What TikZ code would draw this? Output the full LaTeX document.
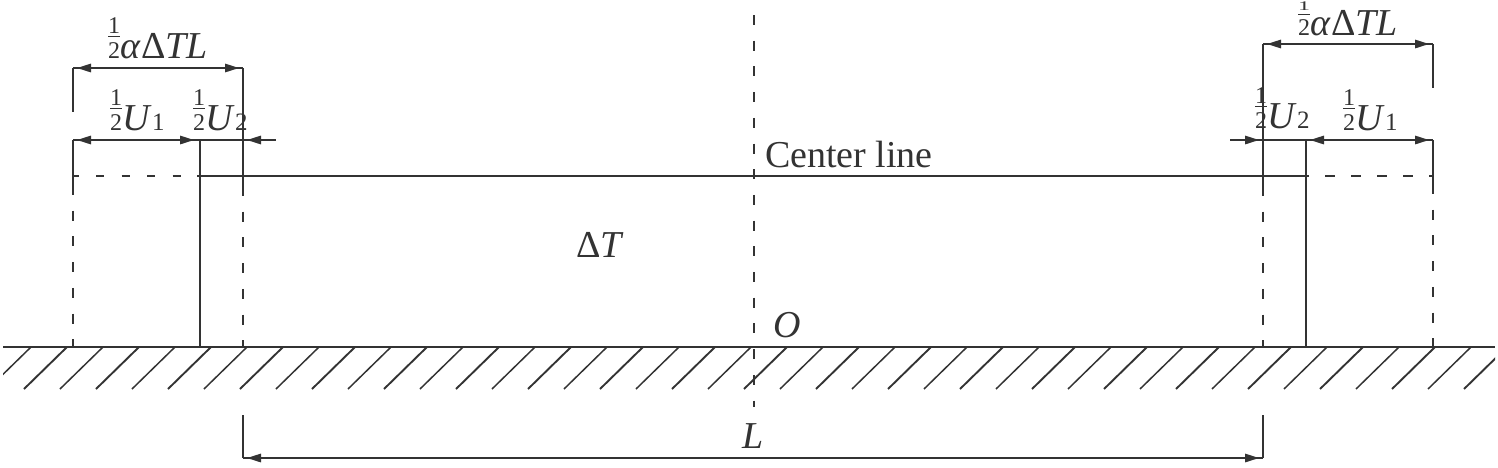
\documentclass[tikz,border=0pt]{standalone}
\usepackage{fontspec}
\setmainfont{Liberation Serif}
\usetikzlibrary{arrows.meta}
\definecolor{ink}{HTML}{333333}
\newcommand{\bigf}{\fontsize{38}{40}\selectfont}
\newcommand{\midf}{\fontsize{25}{27}\selectfont}
\newcommand{\smlf}{\fontsize{24}{26}\selectfont}
\newcommand{\hf}{\makebox[12.5pt][l]{\smlf\rlap{\raisebox{25pt}{1}}\rlap{\rule[21pt]{12pt}{1.3pt}}2}}
\newcommand{\hfs}{\makebox[12.5pt][l]{\smlf\rlap{\raisebox{25pt}{\scalebox{1}[0.55]{1}}}\rlap{\rule[20pt]{12pt}{1.3pt}}2}}
\newcommand{\aDTL}{\textit{α}Δ\textit{TL}}
\tikzset{
  x=1pt,y=-1pt,
  lab/.style={anchor=base west,inner sep=0pt,outer sep=0pt,text=ink,font=\bigf},
  ln/.style={draw=ink,line width=1.5pt},
  dsh/.style={ln,dash pattern=on 10pt off 15.7pt},
  tipshape/.tip={Triangle[length=14pt,width=8.5pt]},
  tipped/.style={ln,{tipshape}-{tipshape},shorten <=4pt,shorten >=4pt},
  tipend/.style={ln,-{tipshape},shorten >=4pt},
  tipstart/.style={ln,{tipshape}-,shorten <=4pt},
  heavy/.style={draw=ink,line width=2.6pt},
  hatchthin/.style={draw=ink,line width=1.5pt},
  hatchthick/.style={draw=ink,line width=1.9pt},
}
\begin{document}
\begin{tikzpicture}
\useasboundingbox[fill=white] (0,0) rectangle (1498,467);
% key points
\coordinate (gl) at (3,347); \coordinate (gr) at (1495,347);
\coordinate (cT) at (754,15); \coordinate (cB) at (754,407);
\coordinate (ltl) at (73,68); \coordinate (ltr) at (243,68);
\coordinate (ltlb) at (73,112);
\coordinate (lml) at (73,140); \coordinate (lmm) at (200,140); \coordinate (lmr) at (243,140); \coordinate (lmx) at (276,140);
\coordinate (lsl) at (73,189); \coordinate (lsr) at (243,190);
\coordinate (lgl) at (73,347); \coordinate (lgm) at (200,347); \coordinate (lgr) at (243,347);
\coordinate (rtl) at (1263,44); \coordinate (rtr) at (1433,44);
\coordinate (rtrb) at (1433,88);
\coordinate (rml) at (1263,140); \coordinate (rmm) at (1306,140); \coordinate (rmr) at (1433,140); \coordinate (rmx) at (1230,140);
\coordinate (rsl) at (1263,190); \coordinate (rsr) at (1433,188);
\coordinate (rgl) at (1263,347); \coordinate (rgm) at (1306,347); \coordinate (rgr) at (1433,347);
\coordinate (clA) at (73,176); \coordinate (clB) at (197,176); \coordinate (clC) at (1309,176); \coordinate (clD) at (1433,176);
\coordinate (Ll) at (243,458); \coordinate (Lr) at (1263,458);
\coordinate (Llt) at (243,415); \coordinate (Lrt) at (1263,415);
\coordinate (hvA) at (1323,140); \coordinate (hvB) at (1339,140);
% ground and hatching
\draw[ln] (gl) -- (gr);
\begin{scope}
\clip (3,340) rectangle (1495,395);
\foreach \k in {0,...,41}{
  \pgfmathsetmacro{\tx}{31+36*\k}
  \pgfmathtruncatemacro{\odd}{mod(\k,2)}
  \ifnum\odd=1
    \draw[hatchthick] (\tx,347) -- (\tx-43,389);
  \else
    \draw[hatchthin] (\tx,347) -- (\tx-43,389);
  \fi
}
\end{scope}
% centre axis
\draw[dsh] (cT) -- (cB);
% solid verticals
\draw[ln] (ltl) -- (ltlb);
\draw[ln] (ltr) -- (lsr);
\draw[ln] (lml) -- (lsl);
\draw[ln] (lmm) -- (lgm);
\draw[ln] (rtl) -- (rsl);
\draw[ln] (rtr) -- (rtrb);
\draw[ln] (rmr) -- (rsr);
\draw[ln] (rmm) -- (rgm);
\draw[ln] (Llt) -- (Ll);
\draw[ln] (Lrt) -- (Lr);
% dashed verticals
\draw[dsh,dash phase=4pt] (lsl) -- (lgl);
\draw[dsh,dash phase=4pt] (lsr) -- (lgr);
\draw[dsh,dash phase=4pt] (rsl) -- (rgl);
\draw[dsh,dash phase=4pt] (rsr) -- (rgr);
% centre line
\draw[ln] (clB) -- (clC);
\draw[dsh,dash pattern=on 8pt off 17.5pt,dash phase=2.5pt] (clA) -- (clB);
\draw[dsh,dash pattern=on 10pt off 16pt,dash phase=-16pt] (clC) -- (clD);
% dimensions
\draw[ln] (ltl) -- (ltr); \draw[tipped] (ltl) -- (ltr);
\draw[ln] (lml) -- (lmm); \draw[tipped] (lml) -- ([xshift=-2pt]lmm);
\draw[ln] (lmm) -- (lmx); \draw[tipstart] (lmr) -- (lmx);
\draw[ln] (rtl) -- (rtr); \draw[tipped] (rtl) -- (rtr);
\draw[ln] (rmx) -- (rmm); \draw[tipend] (rmx) -- (rml);
\draw[ln] (rmm) -- (rmr); \draw[tipped] (rmm) -- (rmr);
\draw[heavy] (hvA) -- (hvB);
\draw[ln] (Ll) -- (Lr); \draw[tipped] (Ll) -- (Lr);
% labels
\node[lab] (a1) at (108,58) {\hf\aDTL};
\node[lab] (a2) at (110,130) {\hf\textit{U}{\midf 1}};
\node[lab] (a3) at (193,130) {\hf\textit{U}{\midf 2}};
\node[lab] (a4) at (1298,35) {\hfs\aDTL};
\node[lab] (a5) at (1255,128) {\hf\textit{U}{\midf 2}};
\node[lab] (a6) at (1343,130) {\hf\textit{U}{\midf 1}};
\node[lab] (cl) at (765,167) {Center line};
\node[lab] (dT) at (576,257) {Δ\textit{T}};
\node[lab] (oo) at (773,337) {\textit{O}};
\node[lab] (ll) at (742,448) {\textit{L}};
\end{tikzpicture}
\end{document}
